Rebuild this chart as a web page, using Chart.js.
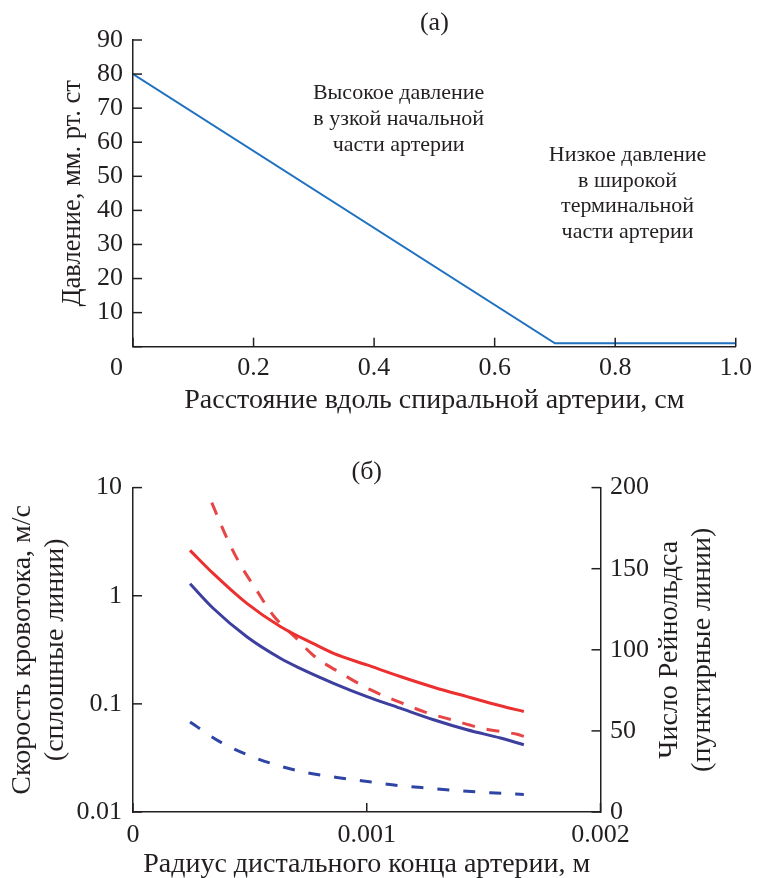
<!DOCTYPE html>
<html><head><meta charset="utf-8">
<script src="https://cdn.jsdelivr.net/npm/chart.js@4/dist/chart.umd.min.js"></script>
<style>
html,body{margin:0;padding:0;background:#fff;}
#wrapA{position:absolute;left:0;top:0;width:758px;height:430px;}
#wrapB{position:absolute;left:0;top:430px;width:758px;height:448px;}
</style></head><body>
<div id="wrapA"><canvas id="chartA" width="758" height="430"></canvas></div>
<div id="wrapB"><canvas id="chartB" width="758" height="448"></canvas></div>
<script>
// ---------- data: panel (а) ----------
const distanceCm = [0, 0.7, 1.0];
const pressureMmHg = [80, 1, 1];
const annotationHigh = ['Высокое давление', 'в узкой начальной', 'части артерии'];
const annotationLow = ['Низкое давление', 'в широкой', 'терминальной', 'части артерии'];

// ---------- data: panel (б) ----------
const radiusVelRed = [0.000244, 0.000344, 0.000487, 0.000630, 0.000772, 0.000858, 0.001001, 0.001143, 0.001286, 0.001429, 0.001572, 0.001672];
const velocityRed = [2.63, 1.60, 0.85, 0.52, 0.36, 0.293, 0.229, 0.179, 0.1426, 0.1167, 0.096, 0.085];
const radiusVelBlue = [0.000244, 0.000344, 0.000487, 0.000630, 0.000715, 0.000858, 0.001001, 0.001143, 0.001286, 0.001429, 0.001572, 0.001672];
const velocityBlue = [1.29, 0.762, 0.417, 0.264, 0.213, 0.155, 0.1167, 0.0912, 0.0713, 0.0576, 0.0483, 0.0419];
const radiusReRed = [0.000337, 0.000401, 0.000458, 0.000530, 0.000601, 0.000694, 0.000772, 0.000894, 0.001015, 0.001129, 0.001250, 0.001372, 0.001500, 0.001643, 0.001672];
const reynoldsRed = [190.7, 169.1, 152.8, 136.4, 121.0, 107.7, 96.5, 85.2, 75.4, 68.4, 61.6, 56.5, 51.4, 47.9, 46.7];
const radiusReBlue = [0.000244, 0.000373, 0.000494, 0.000615, 0.000744, 0.000872, 0.001012, 0.001143, 0.001272, 0.001400, 0.001529, 0.001672];
const reynoldsBlue = [55.5, 43.2, 35.0, 28.9, 24.2, 21.3, 18.6, 16.2, 14.6, 13.1, 11.9, 10.8];
const velocityTicks = [0.01, 0.1, 1, 10];
const radiusTicks = [0, 0.001, 0.002];
const radiusTickLabels = ['0', '0.001', '0.002'];

// ---------- styles ----------
const FONT = "'Liberation Serif','Times New Roman',serif";
const INK = '#231f20';
Chart.defaults.font.family = FONT;
Chart.defaults.color = INK;

const zip = (xs, ys) => xs.map((x, i) => ({x, y: ys[i]}));

const inwardTicks = {
  id: 'inwardTicks',
  afterDraw(chart) {
    const ctx = chart.ctx;
    ctx.save();
    ctx.strokeStyle = INK;
    ctx.lineWidth = 1.5;
    Object.values(chart.scales).forEach(s => {
      const len = 9;
      s.ticks.forEach(t => {
        const p = s.getPixelForValue(t.value);
        ctx.beginPath();
        if (s.isHorizontal()) { ctx.moveTo(p, s.top); ctx.lineTo(p, s.top - len); }
        else if (s.position === 'left') { ctx.moveTo(s.right, p); ctx.lineTo(s.right + len, p); }
        else { ctx.moveTo(s.left, p); ctx.lineTo(s.left - len, p); }
        ctx.stroke();
      });
    });
    ctx.restore();
  }
};

const notesA = {
  id: 'notesA',
  afterDraw(chart) {
    const ctx = chart.ctx, xs = chart.scales.x, ys = chart.scales.y;
    ctx.save();
    ctx.fillStyle = INK;
    ctx.textAlign = 'center';
    ctx.textBaseline = 'middle';
    ctx.font = '22px ' + FONT;
    const block = (lines, xv, yv) => {
      const px = xs.getPixelForValue(xv), py = ys.getPixelForValue(yv);
      lines.forEach((l, i) => ctx.fillText(l, px, py + i * 25.7));
    };
    block(annotationHigh, 0.4407, 74.3);
    block(annotationLow, 0.8205, 56.2);
    // origin label
    ctx.font = '26px ' + FONT;
    ctx.fillText('0', xs.getPixelForValue(0) - 16.5, xs.top + 21.6);
    ctx.restore();
  }
};

const rightTitleB = {
  id: 'rightTitleB',
  afterDraw(chart) {
    const ctx = chart.ctx, ys = chart.scales.yR;
    const cy = (chart.chartArea.top + chart.chartArea.bottom) / 2;
    ctx.save();
    ctx.fillStyle = INK;
    ctx.font = '28px ' + FONT;
    ctx.textAlign = 'center';
    ctx.textBaseline = 'middle';
    ctx.translate(ys.left + 69.5, cy);
    ctx.rotate(-Math.PI / 2);
    ctx.fillText('Число Рейнольдса', 0, 0);
    ctx.fillText('(пунктирные линии)', 0, 32.4);
    ctx.restore();
  }
};

const tickFont = {family: FONT, size: 26};

// ---------- chart (а) ----------
new Chart(document.getElementById('chartA'), {
  type: 'line',
  data: {
    datasets: [{
      data: zip(distanceCm, pressureMmHg),
      borderColor: '#1f72c0',
      borderWidth: 2,
      pointRadius: 0,
      tension: 0
    }]
  },
  options: {
    responsive: false,
    animation: false,
    layout: {padding: {left: 0, right: 18, top: 0, bottom: 0}},
    plugins: {
      legend: {display: false},
      tooltip: {enabled: false},
      title: {
        display: true, text: '(а)', fullSize: false, color: INK,
        font: {family: FONT, size: 26, weight: 'normal'},
        padding: {top: 7.7, bottom: 1.1}
      }
    },
    scales: {
      x: {
        type: 'linear', min: 0, max: 1,
        grid: {display: false, drawTicks: false, tickLength: 0},
        border: {display: true, color: INK, width: 1.5},
        ticks: {stepSize: 0.2, autoSkip: false, maxRotation: 0, padding: 6, color: INK, font: tickFont,
          callback: v => (Math.abs(v) < 1e-9 ? '' : v.toFixed(1))},
        title: {display: true, text: 'Расстояние вдоль спиральной артерии, см', color: INK,
          font: {family: FONT, size: 28}, padding: {top: 0, bottom: 12.2}},
        afterFit: s => { s.height = 83.3; }
      },
      y: {
        type: 'linear', min: 0, max: 90,
        grid: {display: false, drawTicks: false, tickLength: 0},
        border: {display: true, color: INK, width: 1.5},
        ticks: {stepSize: 10, autoSkip: false, padding: 10, color: INK, font: tickFont,
          callback: v => (v === 0 ? '' : String(v))},
        title: {display: true, text: 'Давление, мм. рт. ст', color: INK,
          font: {family: FONT, size: 26.5}, padding: {top: 57.6, bottom: 0}},
        afterFit: s => { s.width = 133; }
      }
    }
  },
  plugins: [inwardTicks, notesA]
});

// ---------- chart (б) ----------
new Chart(document.getElementById('chartB'), {
  type: 'line',
  data: {
    datasets: [
      {data: zip(radiusVelRed, velocityRed), yAxisID: 'y', borderColor: '#ec3030', borderWidth: 3, pointRadius: 0, cubicInterpolationMode: 'monotone'},
      {data: zip(radiusVelBlue, velocityBlue), yAxisID: 'y', borderColor: '#3d3f9e', borderWidth: 3, pointRadius: 0, cubicInterpolationMode: 'monotone'},
      {data: zip(radiusReRed, reynoldsRed), yAxisID: 'yR', borderColor: '#e84646', borderWidth: 3, borderDash: [13, 12], pointRadius: 0, cubicInterpolationMode: 'monotone'},
      {data: zip(radiusReBlue, reynoldsBlue), yAxisID: 'yR', borderColor: '#2f45a5', borderWidth: 3, borderDash: [12, 14], pointRadius: 0, cubicInterpolationMode: 'monotone'}
    ]
  },
  options: {
    responsive: false,
    animation: false,
    layout: {padding: {left: 0, right: 0, top: 0, bottom: 0}},
    plugins: {
      legend: {display: false},
      tooltip: {enabled: false},
      title: {
        display: true, text: '(б)', fullSize: false, color: INK,
        font: {family: FONT, size: 26, weight: 'normal'},
        padding: {top: 26.4, bottom: 0}
      }
    },
    scales: {
      x: {
        type: 'linear', min: 0, max: 0.002,
        afterBuildTicks: s => { s.ticks = radiusTicks.map(v => ({value: v})); },
        grid: {display: false, drawTicks: false, tickLength: 0},
        border: {display: true, color: INK, width: 1.5},
        ticks: {autoSkip: false, maxRotation: 0, padding: 7.4, color: INK, font: tickFont,
          callback: (v, i) => radiusTickLabels[i]},
        title: {display: true, text: 'Радиус дистального конца артерии, м', color: INK,
          font: {family: FONT, size: 28, lineHeight: 1.0}, padding: {top: 0, bottom: -1}},
        afterFit: s => { s.height = 66; }
      },
      y: {
        type: 'logarithmic', position: 'left', min: 0.01, max: 10,
        afterBuildTicks: s => { s.ticks = velocityTicks.map(v => ({value: v})); },
        grid: {display: false, drawTicks: false, tickLength: 0},
        border: {display: true, color: INK, width: 1.5},
        ticks: {autoSkip: false, padding: 11, color: INK, font: tickFont,
          callback: v => String(v)},
        title: {display: true, text: ['Скорость кровотока, м/с', '(сплошные линии)'], color: INK,
          font: {family: FONT, size: 28, lineHeight: 1.16}, padding: {top: 6.75, bottom: 0}},
        afterFit: s => { s.width = 133; }
      },
      yR: {
        type: 'linear', position: 'right', min: 0, max: 200,
        grid: {display: false, drawTicks: false, tickLength: 0},
        border: {display: true, color: INK, width: 1.5},
        ticks: {stepSize: 50, autoSkip: false, padding: 9.5, color: INK, font: tickFont},
        afterFit: s => { s.width = 157.5; }
      }
    }
  },
  plugins: [inwardTicks, rightTitleB]
});
</script>
</body></html>
